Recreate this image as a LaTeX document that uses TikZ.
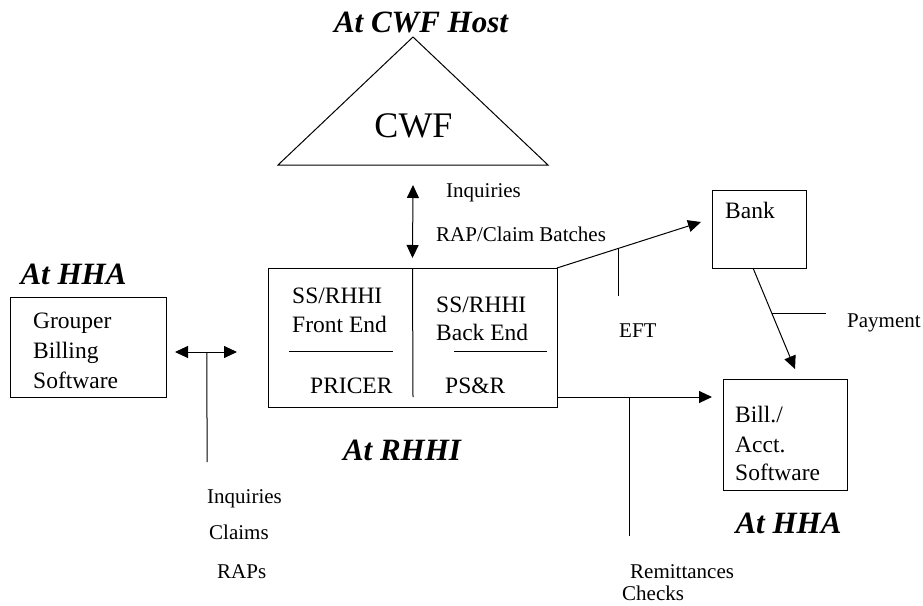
\documentclass[tikz,border=0pt]{standalone}
\usepackage{fontspec}
\setmainfont{Liberation Serif}
\usetikzlibrary{arrows.meta,calc}
\tikzset{
  ln/.style={line width=1pt, draw=black},
  arr/.style={ln, -{Triangle[length=13pt,width=12pt]}},
  dbl/.style={ln, {Triangle[length=13pt,width=12pt]}-{Triangle[length=13pt,width=12pt]}},
  boxnode/.style={draw, line width=1pt, anchor=north west, inner sep=0pt, outer sep=0pt},
  lbl/.style={anchor=base west, inner sep=0pt, font=\fontsize{21}{25}\selectfont},
  btxt/.style={anchor=base west, inner sep=0pt, font=\fontsize{23.5}{28}\selectfont},
  head/.style={anchor=base, inner sep=0pt, font=\fontsize{31}{36}\selectfont\bfseries\itshape},
}
\begin{document}
\begin{tikzpicture}[x=1pt,y=-1pt]
\useasboundingbox (0,0) rectangle (923,605);

% CWF triangle
\coordinate (apex) at (413,37);
\coordinate (tl) at (278,165);
\coordinate (tr) at (548,165);
\coordinate (cwfbase) at (413,165);
\draw[ln, line join=miter] (tl) -- (apex) -- (tr) -- cycle;
\node[anchor=base, inner sep=0pt, font=\fontsize{36}{40}\selectfont] (cwf) at (413.5,137) {CWF};
\node[head] (hcwf) at (421,32) {At CWF Host};

% boxes
\node[boxnode, minimum width=289pt, minimum height=139pt] (main) at (268,268) {};
\node[boxnode, minimum width=156pt, minimum height=100pt] (grp) at (10,297) {};
\node[boxnode, minimum width=94pt, minimum height=78pt] (bank) at (712,190) {};
\node[boxnode, minimum width=124pt, minimum height=111pt] (bill) at (723,379) {};

% main box internals
\coordinate (divb) at (413,397);
\draw[ln] (main.north) -- (divb);
\coordinate (l1a) at (289,351); \coordinate (l1b) at (393,351);
\coordinate (l2a) at (454,351); \coordinate (l2b) at (547,351);
\draw[ln] (l1a) -- (l1b);
\draw[ln] (l2a) -- (l2b);

% box texts
\node[btxt] (t1) at (292,303) {SS/RHHI};
\node[btxt] (t2) at (292,332) {Front End};
\node[btxt] (t3) at (310,393) {PRICER};
\node[btxt] (t4) at (436,312) {SS/RHHI};
\node[btxt] (t5) at (436,340) {Back End};
\node[btxt] (t6) at (445,393) {PS\&R};
\node[btxt] (g1) at (33,328) {Grouper};
\node[btxt] (g2) at (33,358) {Billing};
\node[btxt] (g3) at (33,388) {Software};
\node[btxt] (bk) at (725,218) {Bank};
\node[btxt] (b1) at (735,422) {Bill./};
\node[btxt] (b2) at (735,452) {Acct.};
\node[btxt] (b3) at (735,480) {Software};

% headings
\node[head] (hhha1) at (73.5,284) {At HHA};
\node[head] (hrhhi) at (402,460) {At RHHI};
\node[head] (hhha2) at (788.5,533) {At HHA};

% CWF <-> main
\draw[dbl] ([yshift=-20pt]cwfbase) -- ([yshift=10pt]main.north);

% grouper <-> main
\coordinate (ga) at (175,352);
\coordinate (gb) at (237,352);
\coordinate (gt) at (207,462);
\draw[dbl] (ga) -- (gb);
\draw[ln] ($(ga)!0.516!(gb)$) -- (gt);

% main -> bank (EFT)
\coordinate (bankin) at (701,222);
\draw[arr] (main.north east) -- (bankin);
\draw[ln] ($(main.north east)!0.43!(bankin)$) -- ++(0,48);

% bank -> bill (Payment)
\coordinate (bankout) at (753,268);
\coordinate (billin) at (795,369);
\draw[arr] (bankout) -- (billin);
\draw[ln] ($(bankout)!0.455!(billin)$) -- ++(54,0);

% main -> bill (Remittances)
\coordinate (mo) at (557,397);
\coordinate (bi) at (712,397);
\draw[arr] (mo) -- (bi);
\draw[ln] ($(mo)!0.465!(bi)$) -- ++(0,139);

% labels
\node[lbl] (q1) at (446,197) {Inquiries};
\node[lbl] (q2) at (436,241) {RAP/Claim Batches};
\node[lbl] (eft) at (619,337) {EFT};
\node[lbl] (pay) at (847,327) {Payment};
\node[lbl] (q3) at (207,503) {Inquiries};
\node[lbl] (q4) at (209,539) {Claims};
\node[lbl] (q5) at (217,578) {RAPs};
\node[lbl] (rem) at (630,578) {Remittances};
\node[lbl] (chk) at (622,600) {Checks};
\end{tikzpicture}
\end{document}
